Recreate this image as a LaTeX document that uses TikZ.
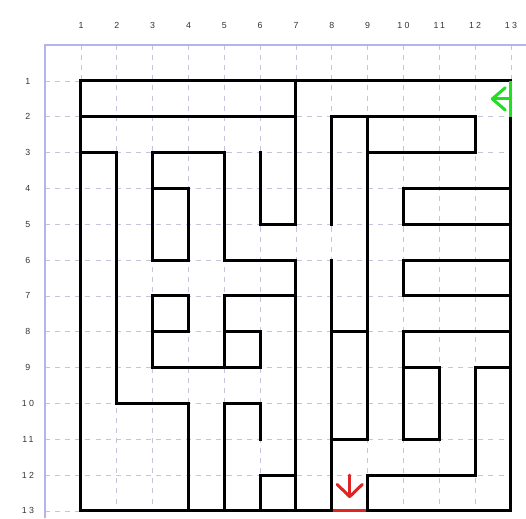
\documentclass[tikz,border=0pt]{standalone}
\usepackage{fontspec}
\newfontfamily\lblfont[LetterSpace=25]{Liberation Sans}
\definecolor{gridc}{HTML}{C4C4DC}
\definecolor{axisc}{HTML}{B4B4F0}
\definecolor{startc}{HTML}{22DD22}
\definecolor{endc}{HTML}{E02424}
\tikzset{
  wall/.style={line width=2.4pt, black, line cap=rect, line join=miter},
  gridline/.style={gridc, line width=0.6pt, dash pattern=on 4pt off 4pt},
  axisline/.style={axisc, line width=1.6pt},
  lbl/.style={font=\lblfont\fontsize{7}{8}\selectfont, text=black!80, inner sep=0pt},
  startarrow/.style={startc, line width=2.4pt, line cap=round, line join=round},
  endarrow/.style={endc, line width=2.4pt, line cap=round, line join=round},
  exitline/.style={endc, line width=2.4pt},
}
\begin{document}
\begin{tikzpicture}[x=1cm,y=-1cm]
\useasboundingbox (-1.26,-1.26) rectangle (13.42,13.20);
% grid
\foreach \i in {1,...,13} {
  \draw[gridline] (\i,0) -- (\i,13);
  \draw[gridline] (0,\i) -- (13,\i);
  \node[lbl] (top\i) at (\i,-0.56) {\i};
  \node[lbl] (left\i) at (-0.48,\i) {\i};
}
% axes
\draw[axisline] (0,13.2) -- (0,0) -- (13.42,0);
% outer walls
\draw[wall] (1,13) -- (1,1) -- (13,1);
\draw[wall] (13,2) -- (13,13) -- (9,13);
\draw[wall] (1,13) -- (8,13);
\draw[exitline] (8,13) -- (9,13);
\draw[startc, line width=2.4pt] (13,1) -- (13,2);
% interior walls
\draw[wall] (1,2) -- (7,2);
\draw[wall] (7,1) -- (7,5) -- (6,5) -- (6,3);
\draw[wall] (1,3) -- (2,3) -- (2,10) -- (4,10) -- (4,13);
\draw[wall] (3,6) -- (3,3) -- (5,3) -- (5,6) -- (7,6) -- (7,13);
\draw[wall] (3,4) -- (4,4) -- (4,6) -- (3,6);
\draw[wall] (3,7) -- (4,7) -- (4,8) -- (3,8);
\draw[wall] (3,7) -- (3,9) -- (6,9) -- (6,8) -- (5,8);
\draw[wall] (5,9) -- (5,7) -- (7,7);
\draw[wall] (5,13) -- (5,10) -- (6,10) -- (6,11);
\draw[wall] (6,13) -- (6,12) -- (7,12);
\draw[wall] (8,13) -- (8,6);
\draw[wall] (8,5) -- (8,2) -- (12,2) -- (12,3) -- (9,3);
\draw[wall] (9,2) -- (9,11) -- (8,11);
\draw[wall] (8,8) -- (9,8);
\draw[wall] (13,4) -- (10,4) -- (10,5) -- (13,5);
\draw[wall] (13,6) -- (10,6) -- (10,7) -- (13,7);
\draw[wall] (13,8) -- (10,8) -- (10,11) -- (11,11) -- (11,9) -- (10,9);
\draw[wall] (13,9) -- (12,9) -- (12,12) -- (9,12) -- (9,13);
% start arrow (green)
\draw[startarrow] (13,1.5) -- (12.48,1.5);
\draw[startarrow] (12.84,1.19) -- (12.48,1.5) -- (12.84,1.81);
% end arrow (red)
\draw[endarrow] (8.5,12.0) -- (8.5,12.6);
\draw[endarrow] (8.15,12.26) -- (8.5,12.6) -- (8.85,12.26);
\end{tikzpicture}
\end{document}
